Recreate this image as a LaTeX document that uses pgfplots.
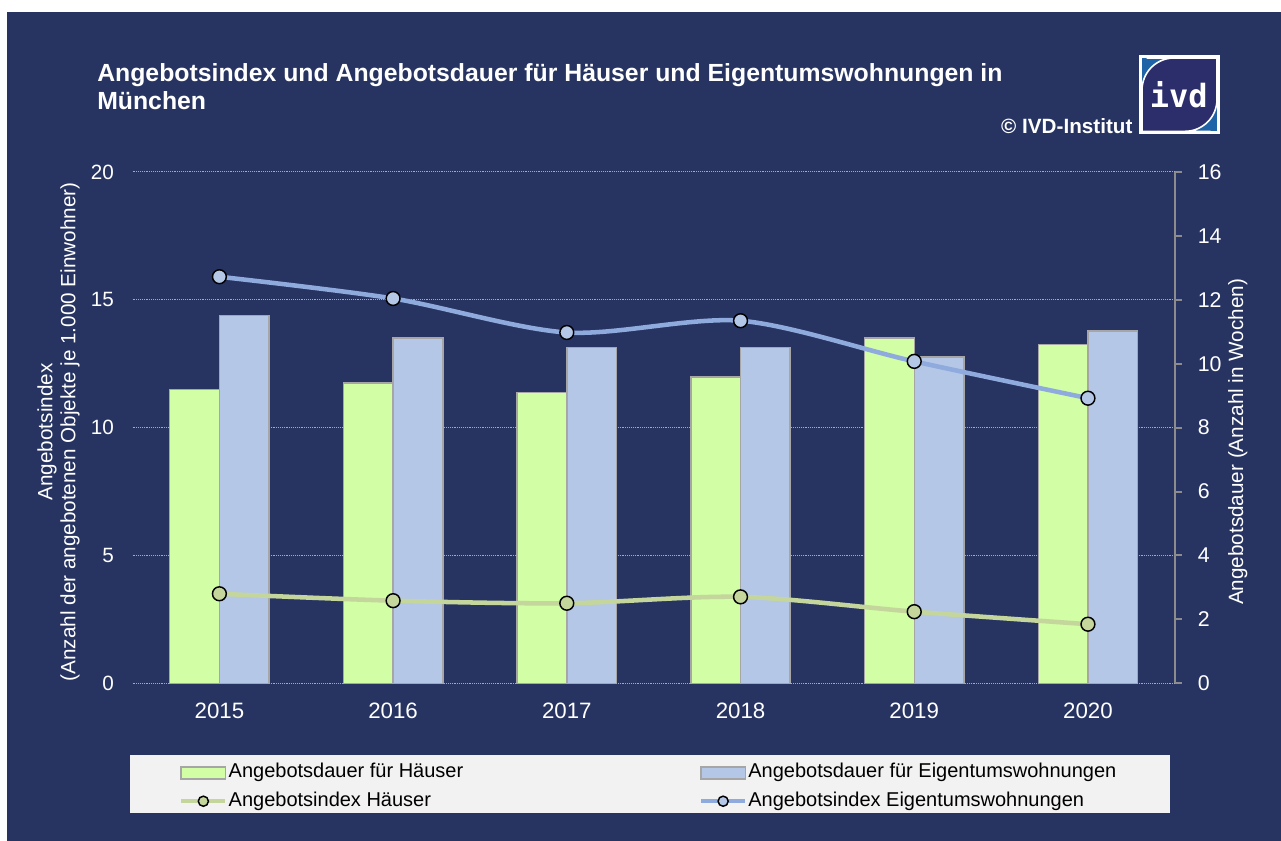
\documentclass[border=0pt]{standalone}
\usepackage{fontspec}
\setmainfont{Liberation Sans}
\newfontfamily\logofont{DejaVu Sans Mono}
\usepackage{pgfplots}
\pgfplotsset{compat=1.18}
\definecolor{navy}{RGB}{39,52,98}
\definecolor{barH}{RGB}{210,254,166}
\definecolor{barE}{RGB}{180,199,230}
\definecolor{lineE}{RGB}{143,170,220}
\definecolor{lineH}{RGB}{196,214,156}
\definecolor{markH}{RGB}{196,214,156}
\definecolor{markE}{RGB}{180,199,231}
\definecolor{bargray}{RGB}{166,166,166}
\definecolor{gridcol}{RGB}{170,170,170}
\definecolor{axisgray}{RGB}{140,140,140}
\definecolor{leggray}{RGB}{242,242,242}
\definecolor{logoblue}{RGB}{31,100,166}
\definecolor{logonavy}{RGB}{44,45,107}
\pgfplotsset{
  base/.style={scale only axis, width=781.7pt, height=383.5pt,
    at={(99.4pt,118.3pt)}, anchor=south west, xmin=-0.5, xmax=5.5},
}
\begin{document}
\begin{tikzpicture}[x=1pt,y=1pt]
\fill[white] (0,0) rectangle (960.75,630.75);
\fill[navy] (5.25,0) rectangle (960.75,621.75);
% title
\node[anchor=base west, align=left, font=\fontsize{18.6}{21}\selectfont\bfseries, text=white, inner sep=0pt] at (72.75,548.25)
  {Angebotsindex und Angebotsdauer für Häuser und Eigentumswohnungen in\\München};
\node[anchor=base east, font=\fontsize{15.5}{18}\selectfont\bfseries, text=white, inner sep=0pt] at (849.5,530.5) {© IVD-Institut};
% logo
\fill[white] (854.25,530) rectangle (915,589.5);
\fill[logoblue] (856.5,532.25) rectangle (912.75,587.25);
\draw[white, line width=1.2pt, fill=logonavy]
  (856.5,560) [rounded corners=24pt] -- (856.5,587.25) -- (884,587.25) [sharp corners] -- (912.75,587.25) -- (912.75,560)
  [rounded corners=24pt] -- (912.75,532.25) -- (884,532.25) [sharp corners] -- (856.5,532.25) -- cycle;
\node[anchor=base, font=\fontsize{24}{24}\logofont\bfseries, text=white, inner sep=0pt] at (884,550) {ivd};
% legend background
\fill[leggray] (97.8,21.2) rectangle (877.2,64.5);

% grid + left axis
\begin{axis}[base, ymin=0, ymax=20, ytick={0,5,...,20},
  ymajorgrids, grid style={densely dotted, gridcol, line width=0.75pt},
  axis line style={draw=none}, major tick length=0pt,
  xtick={0,...,5}, xticklabels={2015,2016,2017,2018,2019,2020},
  tick label style={text=white},
  yticklabel style={font=\fontsize{15.5}{18}\selectfont, xshift=-10.5pt},
  xticklabel style={font=\fontsize{16.7}{19}\selectfont, yshift=-11pt},
  /pgf/number format/assume math mode=true,
  ylabel={Angebotsindex\\(Anzahl der angebotenen Objekte je 1.000 Einwohner)},
  ylabel style={at={(axis description cs:-0.071,0.4915)}, anchor=center, rotate=0, align=center,
    text=white, font=\fontsize{15.5}{17.25}\selectfont},
]
\end{axis}

% bars, right axis
\begin{axis}[base, ymin=0, ymax=16, ytick={0,2,...,16},
  axis y line*=right, axis x line=none,
  y axis line style={-, draw=axisgray, line width=1.5pt},
  ytick style={draw=axisgray, line width=1.5pt}, major tick length=5.25pt, tick align=outside,
  tick label style={text=white, font=\fontsize{16}{19}\selectfont},
  /pgf/number format/assume math mode=true,
  yticklabel style={xshift=8.5pt},
  ylabel={Angebotsdauer (Anzahl in Wochen)},
  ylabel style={at={(axis description cs:1.0605,0.472)}, anchor=center,
    text=white, font=\fontsize{15.5}{18}\selectfont},
]
\addplot[ybar, bar width=0.286, bar shift=-0.143, fill=barH, draw=bargray, line width=1.1pt]
  coordinates {(0,9.19) (1,9.40) (2,9.09) (3,9.59) (4,10.80) (5,10.60)};
\addplot[ybar, bar width=0.286, bar shift=0.143, fill=barE, draw=bargray, line width=1.1pt]
  coordinates {(0,11.50) (1,10.80) (2,10.50) (3,10.50) (4,10.21) (5,11.02)};
\end{axis}

% lines, left scale
\begin{axis}[base, ymin=0, ymax=20, hide axis,
  legend columns=2,
  legend style={at={(0.0448,-0.1565)}, anchor=north west, draw=none, fill=none,
    inner sep=0pt, outer sep=0pt,
    font=\fontsize{15}{18}\selectfont, text=black,
    nodes={inner sep=0pt, text height=11pt, text depth=3.5pt},
    row sep=6.7pt,
    /tikz/column 1/.style={column sep=0.9pt},
    /tikz/column 2/.style={column sep=176.8pt},
    /tikz/column 3/.style={column sep=0.8pt}},
  legend cell align=left,
]
\addlegendimage{legend image code/.code={\draw[fill=barH, draw=bargray, line width=1.1pt] (0pt,-4.5pt) rectangle (33.2pt,4.5pt);}}
\addlegendentry{Angebotsdauer für Häuser}
\addlegendimage{legend image code/.code={\draw[fill=barE, draw=bargray, line width=1.1pt] (0pt,-4.5pt) rectangle (33.2pt,4.5pt);}}
\addlegendentry{Angebotsdauer für Eigentumswohnungen}
\addplot[lineH, line width=3.4pt, smooth, tension=0.5, mark=*, mark size=5.2pt,
  mark options={fill=markH, draw=black, line width=1.1pt},
  legend image code/.code={\draw[lineH, line width=3pt] (0pt,0pt) -- (33.2pt,0pt);
    \draw[fill=markH, draw=black, line width=1.1pt] (16.6pt,0pt) circle (3.8pt);}]
  coordinates {(0,3.50) (1,3.23) (2,3.13) (3,3.38) (4,2.80) (5,2.31)};
\addlegendentry{Angebotsindex Häuser}
\addplot[lineE, line width=3.4pt, smooth, tension=0.5, mark=*, mark size=5.2pt,
  mark options={fill=markE, draw=black, line width=1.1pt},
  legend image code/.code={\draw[lineE, line width=3pt] (0pt,0pt) -- (33.2pt,0pt);
    \draw[fill=markE, draw=black, line width=1.1pt] (16.6pt,0pt) circle (3.8pt);}]
  coordinates {(0,15.90) (1,15.05) (2,13.72) (3,14.18) (4,12.59) (5,11.15)};
\addlegendentry{Angebotsindex Eigentumswohnungen}
\end{axis}
\pgfresetboundingbox
\useasboundingbox (0,0) rectangle (960.75,630.75);
\end{tikzpicture}
\end{document}
